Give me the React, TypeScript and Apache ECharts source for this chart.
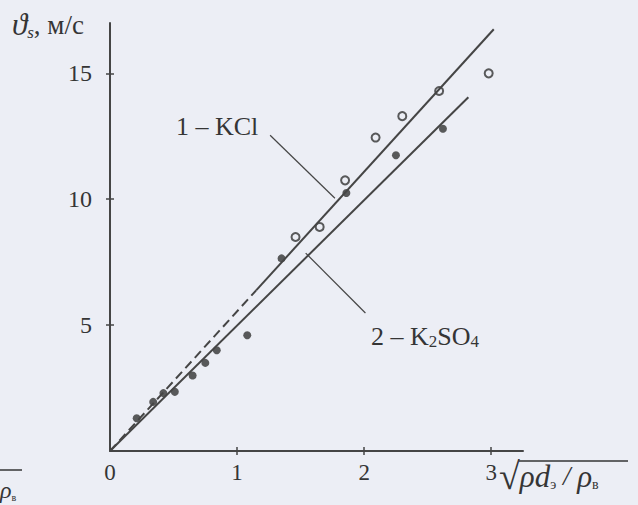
import React, { useEffect, useRef } from "react";
import * as echarts from "echarts";

const xTicks = [1, 2, 3];
const xLabels = [0, 1, 2, 3];
const yTicks = [5, 10, 15];

// KCl regression line (dashed near origin, then solid)
const kclDashed = [[0, 0], [1.15, 6.38]];
const kclSolid = [[1.15, 6.38], [3.02, 16.75]];
// K2SO4 regression line
const k2so4Line = [[0, 0], [2.82, 14.05]];

// experimental points
const kclPoints = [
  [1.46, 8.5], [1.65, 8.9], [1.85, 10.75], [2.09, 12.45], [2.3, 13.3], [2.59, 14.3], [2.98, 15.0],
];
const k2so4Points = [
  [0.21, 1.3], [0.34, 1.95], [0.42, 2.3], [0.51, 2.35], [0.65, 3.0], [0.75, 3.5], [0.84, 4.0],
  [1.08, 4.6], [1.35, 7.65], [1.86, 10.25], [2.25, 11.75], [2.62, 12.8],
];

// leader lines for labels
const leader1 = [[1.26, 12.54], [1.77, 10.04]];
const leader2 = [[1.54, 7.86], [2.01, 5.48]];

const INK = "#454545";
const TXT = "#353535";
const BG = "#eceef5";
const SERIF = "'Liberation Serif', 'DejaVu Serif', serif";

export default function App() {
  const ref = useRef<HTMLDivElement>(null);
  useEffect(() => {
    if (!ref.current) return;
    const chart = echarts.init(ref.current, null, { renderer: "svg" });
    const gridRect = { left: 110, top: 23, width: 413, height: 428, containLabel: false };
    const baseAxisX = {
      type: "value",
      min: 0,
      max: 3.25,
      interval: 1,
      splitLine: { show: false },
    };
    const baseAxisY = {
      type: "value",
      min: 0,
      max: 17,
      interval: 5,
      splitLine: { show: false },
    };
    const tickStyle = { color: INK, width: 1.5 };
    chart.setOption({
      animation: false,
      backgroundColor: BG,
      grid: [gridRect, { ...gridRect }],
      xAxis: [
        {
          ...baseAxisX,
          gridIndex: 0,
          position: "bottom",
          axisLine: { show: true, lineStyle: { color: INK, width: 2 } },
          axisTick: { show: true, customValues: xTicks, length: 4, lineStyle: tickStyle },
          axisLabel: {
            customValues: xLabels,
            fontSize: 23,
            fontFamily: SERIF,
            color: TXT,
            margin: 10,
          },
        },
        {
          ...baseAxisX,
          gridIndex: 1,
          position: "bottom",
          axisLine: { show: false },
          axisTick: { show: true, inside: true, customValues: xTicks, length: 4, lineStyle: tickStyle },
          axisLabel: { show: false },
        },
      ],
      yAxis: [
        {
          ...baseAxisY,
          gridIndex: 0,
          position: "left",
          axisLine: { show: true, lineStyle: { color: INK, width: 2 } },
          axisTick: { show: true, customValues: yTicks, length: 4, lineStyle: tickStyle },
          axisLabel: {
            customValues: yTicks,
            fontSize: 24,
            fontFamily: SERIF,
            color: TXT,
            margin: 18,
          },
        },
        {
          ...baseAxisY,
          gridIndex: 1,
          position: "left",
          axisLine: { show: false },
          axisTick: { show: true, inside: true, customValues: yTicks, length: 4, lineStyle: tickStyle },
          axisLabel: { show: false },
        },
      ],
      series: [
        {
          type: "line",
          data: kclDashed,
          symbol: "none",
          lineStyle: { color: INK, width: 2, type: [9, 5] },
        },
        {
          type: "line",
          data: kclSolid,
          symbol: "none",
          lineStyle: { color: INK, width: 2 },
        },
        {
          type: "line",
          data: k2so4Line,
          symbol: "none",
          lineStyle: { color: INK, width: 2 },
        },
        {
          type: "line",
          data: leader1,
          symbol: "none",
          lineStyle: { color: INK, width: 1.2 },
        },
        {
          type: "line",
          data: leader2,
          symbol: "none",
          lineStyle: { color: INK, width: 1.2 },
        },
        {
          type: "scatter",
          data: kclPoints,
          symbol: "circle",
          symbolSize: 8,
          itemStyle: { color: BG, borderColor: "#333", borderWidth: 2 },
        },
        {
          type: "scatter",
          data: k2so4Points,
          symbol: "circle",
          symbolSize: 8,
          itemStyle: { color: "#333" },
        },
      ],
      graphic: [
        {
          type: "text",
          left: 12,
          top: 9,
          style: {
            text: "{th|ϑ}{sub|s}{n|, м/с}",
            fill: TXT,
            rich: {
              th: { fontSize: 31, fontStyle: "italic", fontFamily: SERIF, fill: TXT },
              sub: { fontSize: 17, fontStyle: "italic", fontFamily: SERIF, fill: TXT, padding: [16, 0, 0, 0] },
              n: { fontSize: 27, fontFamily: SERIF, fill: TXT },
            },
          },
        },
        {
          type: "text",
          left: 176,
          top: 113,
          style: { text: "1 – KCl", fontSize: 26, fontFamily: SERIF, fill: TXT },
        },
        {
          type: "text",
          left: 371,
          top: 323,
          style: {
            text: "{n|2 – K}{s|2}{n|SO}{s|4}",
            rich: {
              n: { fontSize: 26, fontFamily: SERIF, fill: TXT },
              s: { fontSize: 17, fontFamily: SERIF, fill: TXT, padding: [10, 0, 0, 0] },
            },
          },
        },
        {
          type: "text",
          left: 499,
          top: 457,
          style: {
            text: "{r|√}{i|ρd}{s|э}{n| / }{i|ρ}{s|в}",
            rich: {
              r: { fontSize: 38, fontFamily: SERIF, fill: TXT },
              i: { fontSize: 31, fontStyle: "italic", fontFamily: SERIF, fill: TXT },
              n: { fontSize: 27, fontStyle: "italic", fontFamily: SERIF, fill: TXT },
              s: { fontSize: 14, fontFamily: SERIF, fill: TXT, padding: [16, 0, 0, 0] },
            },
          },
        },
        {
          type: "line",
          shape: { x1: 519, y1: 461, x2: 628, y2: 461 },
          style: { stroke: TXT, lineWidth: 1.5 },
        },
        {
          type: "text",
          left: 0,
          top: 478,
          style: {
            text: "{i|ρ}{s|в}",
            rich: {
              i: { fontSize: 24, fontStyle: "italic", fontFamily: SERIF, fill: TXT },
              s: { fontSize: 10, fontFamily: SERIF, fill: TXT, padding: [14, 0, 0, 0] },
            },
          },
        },
        {
          type: "line",
          shape: { x1: 0, y1: 470, x2: 22, y2: 470 },
          style: { stroke: TXT, lineWidth: 1.5 },
        },
      ],
    });
    return () => chart.dispose();
  }, []);
  return (
    <div
      ref={ref}
      style={{ position: "fixed", left: 0, top: 0, width: 638, height: 505 }}
    />
  );
}
